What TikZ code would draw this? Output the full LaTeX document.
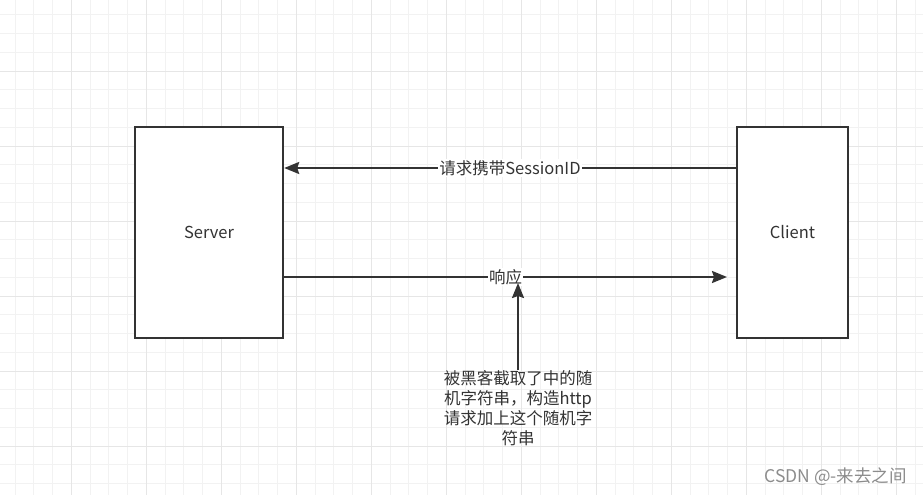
\documentclass[tikz,border=0pt]{standalone}
\usepackage{fontspec}
\setmainfont{Noto Sans CJK SC}
\usetikzlibrary{arrows.meta}
\definecolor{ink}{HTML}{333333}
\definecolor{gridminor}{HTML}{F2F2F2}
\definecolor{gridmajor}{HTML}{E6E6E6}
\definecolor{csdngray}{HTML}{8C8C8C}

\begin{document}
\begin{tikzpicture}[x=1pt,y=-1pt,
  box/.style={draw=ink,line width=2.4pt,fill=white,inner sep=0pt,text=ink,font=\fontsize{16.5pt}{20pt}\selectfont},
  arr/.style={ink,line width=2.2pt,-{Stealth[length=15pt,width=12pt,inset=2pt]}},
  lbl/.style={fill=white,inner sep=1pt,text=ink,font=\fontsize{16.5pt}{20pt}\selectfont}]
  \useasboundingbox (0,0) rectangle (923,495);
  \clip (0,0) rectangle (923,495);
  %grade
  \foreach \i in {0,...,49} \draw[gridminor,line width=1pt] (-3.75+18.75*\i,0) -- (-3.75+18.75*\i,495);
  \foreach \j in {0,...,27} \draw[gridminor,line width=1pt] (0,-4+18.75*\j) -- (923,-4+18.75*\j);
  \foreach \i in {0,...,12} \draw[gridmajor,line width=1pt] (-3.75+75*\i,0) -- (-3.75+75*\i,495);
  \foreach \j in {0,...,6} \draw[gridmajor,line width=1pt] (0,-4+75*\j) -- (923,-4+75*\j);

  %caixas
  \node[box,minimum width=148pt,minimum height=211pt] (server) at (209,232.5) {Server};
  \node[box,minimum width=111pt,minimum height=211pt] (client) at (792.5,232.5) {Client};

  %setas
  \draw[arr] ([yshift=64.5pt]client.west) -- node[lbl]{请求携带SessionID} ([yshift=64.5pt]server.east);
  \coordinate (resp) at (727,277);
  \draw[arr] (server.east |- resp) -- node[lbl]{响应} (resp);

  %hacker
  \node[align=center,inner sep=0pt,text=ink,font=\fontsize{16.5pt}{20pt}\selectfont] (hack) at (518,408)
    {被黑客截取了中的随\\机字符串，构造http\\请求加上这个随机字\\符串};
  \coordinate (tip) at (518,283);
  \draw[arr] (hack.north) -- (tip);

  %marca
  \node[anchor=east,inner sep=0pt,text=csdngray,font=\fontsize{17.5pt}{17.5pt}\selectfont] (csdn) at (907,477) {CSDN @-来去之间};
\end{tikzpicture}
\end{document}
